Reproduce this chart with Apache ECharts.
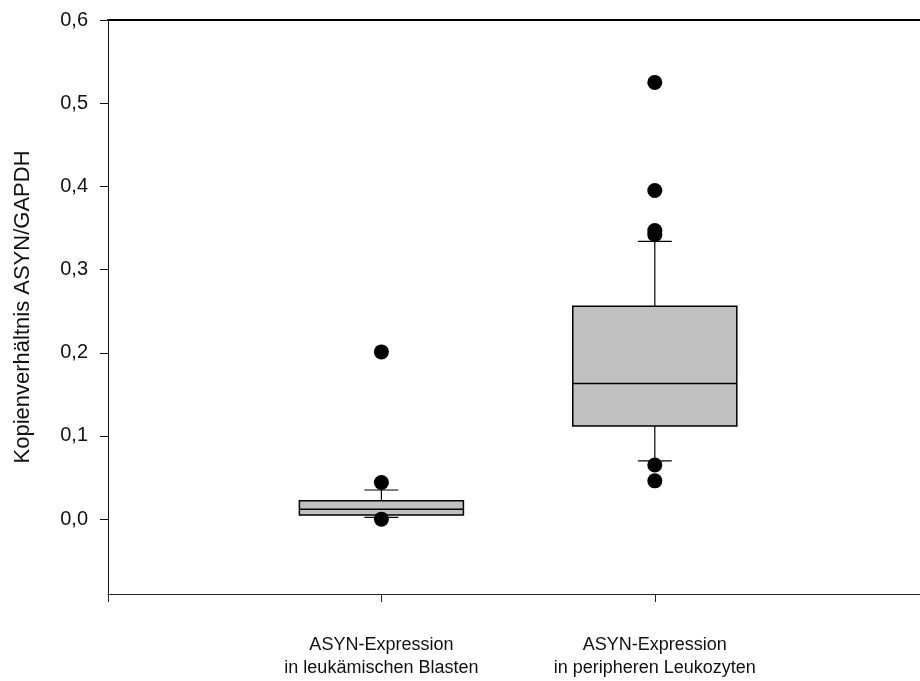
<!DOCTYPE html>
<html>
<head>
<meta charset="utf-8">
<script src="https://cdn.jsdelivr.net/npm/echarts@6/dist/echarts.min.js"></script>
<style>html,body{margin:0;padding:0;background:#fff}#c{width:920px;height:681px}</style>
</head>
<body>
<div id="c"></div>
<script>
const categories = ['ASYN-Expression\nin leukämischen Blasten', 'ASYN-Expression\nin peripheren Leukozyten'];
const categoryPos = [1, 2];
const boxMin = [0.002, 0.070];
const boxQ1 = [0.005, 0.112];
const boxMedian = [0.012, 0.163];
const boxQ3 = [0.022, 0.256];
const boxMax = [0.035, 0.334];
const outlierGroup = [1, 1, 1, 2, 2, 2, 2, 2, 2];
const outlierValue = [0.201, 0.044, 0.0, 0.525, 0.395, 0.347, 0.342, 0.065, 0.046];
const yTicks = [0, 0.1, 0.2, 0.3, 0.4, 0.5, 0.6];

const regular = "'Liberation Sans', Arial, sans-serif";

const boxData = categoryPos.map((x, i) => [x, boxMin[i], boxQ1[i], boxMedian[i], boxQ3[i], boxMax[i]]);
const outlierData = outlierGroup.map((g, i) => [categoryPos[g - 1], outlierValue[i]]);

const chart = echarts.init(document.getElementById('c'), null, {renderer: 'canvas'});
chart.setOption({
  animation: false,
  backgroundColor: '#ffffff',
  grid: {left: 108, right: 0, top: 20, bottom: 87, containLabel: false},
  xAxis: [{
    type: 'value', position: 'bottom', min: 0, max: 2.97,
    axisLine: {show: true, onZero: false, lineStyle: {color: '#222', width: 1}},
    axisTick: {show: true, inside: false, length: 8, customValues: [0, 1, 2], lineStyle: {color: '#222', width: 1}},
    axisLabel: {show: true, customValues: categoryPos, formatter: v => categories[Math.round(v) - 1] || '',
      fontFamily: regular, fontSize: 18, lineHeight: 23, color: '#111', margin: 40, align: 'center'},
    splitLine: {show: false}
  }, {
    type: 'value', position: 'top', min: 0, max: 2.97,
    axisLine: {show: true, onZero: false, lineStyle: {color: '#000', width: 2}},
    axisTick: {show: false}, axisLabel: {show: false}, splitLine: {show: false}
  }],
  yAxis: {
    type: 'value', min: -0.09, max: 0.6,
    name: 'Kopienverhältnis ASYN/GAPDH', nameLocation: 'middle', nameGap: 74,
    nameTextStyle: {fontFamily: regular, fontSize: 22, color: '#111'},
    axisLine: {show: true, onZero: false, lineStyle: {color: '#111', width: 1}},
    axisTick: {show: true, inside: false, length: 8, customValues: yTicks, lineStyle: {color: '#111', width: 1}},
    axisLabel: {show: true, customValues: yTicks, formatter: v => v.toFixed(1).replace('.', ','),
      fontFamily: regular, fontSize: 20, color: '#111', margin: 20},
    splitLine: {show: false}
  },
  series: [{
    type: 'custom',
    xAxisIndex: 0,
    data: boxData,
    encode: {x: 0, y: [1, 2, 3, 4, 5]},
    renderItem: function (params, api) {
      const x = api.value(0);
      const half = api.size([0.3, 0])[0];
      const capHalf = api.size([0.062, 0])[0];
      const pMin = api.coord([x, api.value(1)]);
      const pQ1 = api.coord([x, api.value(2)]);
      const pMed = api.coord([x, api.value(3)]);
      const pQ3 = api.coord([x, api.value(4)]);
      const pMax = api.coord([x, api.value(5)]);
      const cx = pMed[0];
      const ls = {stroke: '#000', lineWidth: 1.2};
      return {
        type: 'group',
        children: [
          {type: 'line', shape: {x1: cx, y1: pQ3[1], x2: cx, y2: pMax[1]}, style: ls},
          {type: 'line', shape: {x1: cx, y1: pQ1[1], x2: cx, y2: pMin[1]}, style: ls},
          {type: 'line', shape: {x1: cx - capHalf, y1: pMax[1], x2: cx + capHalf, y2: pMax[1]}, style: ls},
          {type: 'line', shape: {x1: cx - capHalf, y1: pMin[1], x2: cx + capHalf, y2: pMin[1]}, style: ls},
          {type: 'rect', shape: {x: cx - half, y: pQ3[1], width: 2 * half, height: pQ1[1] - pQ3[1]},
            style: {fill: '#c0c0c0', stroke: '#000', lineWidth: 1.5}},
          {type: 'line', shape: {x1: cx - half, y1: pMed[1], x2: cx + half, y2: pMed[1]}, style: {stroke: '#000', lineWidth: 1.5}}
        ]
      };
    }
  }, {
    type: 'scatter',
    xAxisIndex: 0,
    data: outlierData,
    symbol: 'circle',
    symbolSize: 15,
    itemStyle: {color: '#000', opacity: 1}
  }]
});
</script>
</body>
</html>
